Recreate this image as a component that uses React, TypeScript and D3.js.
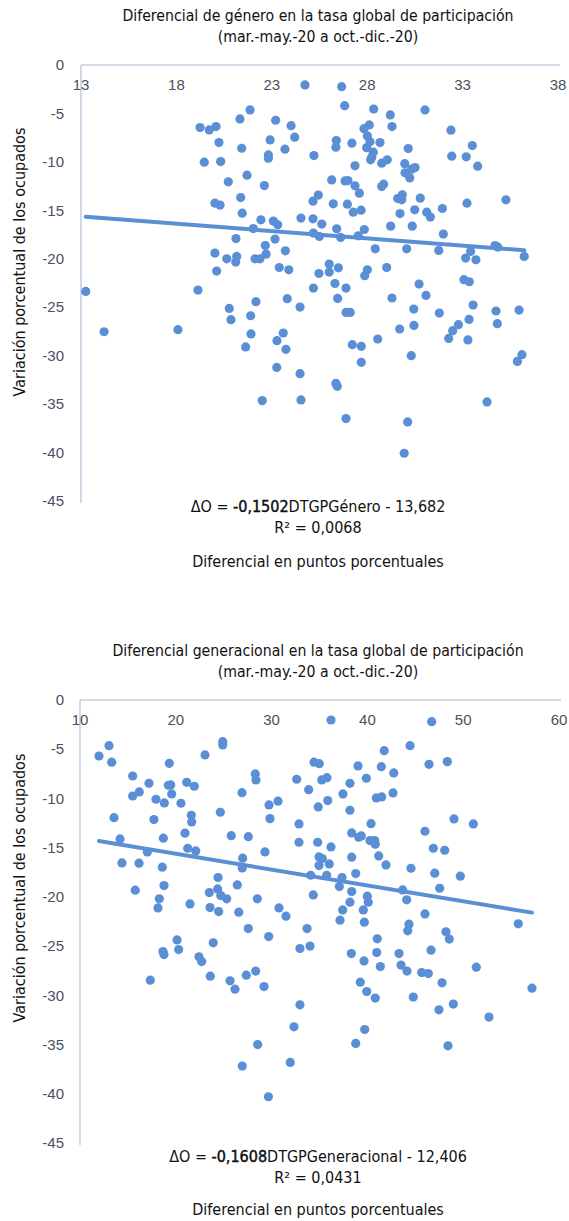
import React from "react";
import * as d3 from "d3";

// Diferencial de género (x) vs variación porcentual de los ocupados (y)
const genderPoints: [number, number][] = [
  [19.24, -6.46], [19.72, -6.7], [20.08, -6.36], [21.33, -5.57], [21.86, -4.64],
  [23.2, -5.7], [24.01, -6.26], [24.2, -7.45], [20.23, -8.01], [21.42, -8.59],
  [22.91, -7.73], [23.69, -8.69], [19.46, -10.03], [20.32, -9.97], [22.82, -9.28],
  [22.82, -9.62], [21.7, -11.37], [20.72, -12.06], [22.61, -12.44], [20.02, -14.26],
  [20.29, -14.46], [21.37, -13.68], [21.45, -15.29], [24.53, -15.8], [22.43, -15.98],
  [23.08, -16.11], [23.31, -16.49], [22.03, -16.88], [21.12, -17.91], [22.66, -18.63],
  [23.17, -17.97], [23.71, -19.18], [20.02, -19.41], [20.64, -20.0], [21.16, -19.76],
  [22.7, -19.52], [22.12, -20.0], [22.38, -20.0], [13.25, -23.37], [14.21, -27.53],
  [18.08, -27.32], [19.13, -23.23], [21.11, -20.34], [20.11, -21.27], [23.39, -20.9],
  [23.89, -21.13], [20.77, -25.12], [20.86, -26.29], [22.17, -24.43], [21.89, -25.88],
  [21.91, -27.76], [21.63, -29.1], [23.6, -27.66], [23.27, -28.45], [23.74, -29.35],
  [23.81, -24.12], [24.48, -24.98], [23.26, -31.21], [24.48, -31.86], [22.5, -34.64],
  [24.53, -34.57], [24.74, -2.06], [26.66, -2.24], [26.82, -4.2], [28.34, -4.54],
  [29.21, -5.15], [31.03, -4.64], [29.3, -6.36], [25.21, -9.35], [26.38, -7.8],
  [26.36, -8.48], [27.2, -8.07], [27.83, -6.57], [28.11, -6.19], [28.01, -7.32],
  [28.15, -7.91], [27.97, -8.53], [28.67, -8.01], [28.32, -9.0], [28.24, -9.52],
  [28.18, -9.79], [28.76, -10.13], [29.05, -9.79], [27.36, -10.41], [30.15, -8.63],
  [32.39, -6.73], [33.51, -8.32], [32.43, -9.41], [33.19, -9.48], [33.79, -10.44],
  [29.97, -10.18], [30.51, -10.59], [30.33, -10.75], [29.98, -11.13], [30.23, -11.65],
  [26.14, -11.86], [26.84, -11.96], [26.99, -11.93], [27.36, -12.47], [27.59, -13.23],
  [28.76, -12.55], [28.86, -12.3], [25.44, -13.43], [25.16, -14.05], [26.22, -14.33],
  [26.96, -14.36], [27.27, -15.19], [27.68, -14.98], [29.6, -13.78], [29.84, -13.4],
  [29.81, -13.92], [30.78, -13.74], [33.23, -14.26], [35.27, -13.92], [29.72, -15.33],
  [30.49, -14.95], [31.12, -15.19], [31.31, -15.7], [31.94, -14.81], [25.16, -15.88],
  [25.62, -16.42], [26.4, -16.91], [27.85, -16.98], [29.23, -16.63], [30.36, -16.63],
  [25.18, -17.35], [25.49, -17.7], [26.61, -17.8], [27.53, -17.63], [28.42, -18.97],
  [30.07, -18.97], [31.75, -19.14], [31.99, -17.45], [34.7, -18.63], [34.84, -18.79],
  [36.23, -19.76], [33.16, -19.93], [33.42, -19.25], [33.7, -20.1], [25.47, -21.52],
  [26.01, -20.55], [26.01, -21.37], [26.49, -20.93], [26.31, -22.55], [25.18, -23.02],
  [26.89, -23.02], [26.45, -24.09], [28.01, -21.13], [27.87, -21.75], [29.02, -20.9],
  [30.72, -22.61], [31.08, -23.78], [29.3, -24.05], [26.89, -25.54], [27.11, -25.54],
  [30.44, -25.19], [31.78, -25.6], [33.07, -22.16], [33.35, -22.37], [33.55, -24.77],
  [33.34, -26.26], [32.78, -26.8], [32.48, -27.42], [32.27, -28.22], [33.28, -28.38],
  [34.75, -25.39], [34.82, -26.7], [35.96, -25.29], [29.7, -27.25], [30.45, -26.88],
  [28.55, -28.28], [27.22, -28.87], [27.69, -29.04], [27.69, -30.69], [30.31, -30.0],
  [26.36, -32.86], [26.43, -33.16], [26.89, -36.49], [30.12, -36.84], [29.94, -40.07],
  [34.28, -34.77], [36.11, -29.9], [35.87, -30.59],
];

// Diferencial generacional (x) vs variación porcentual de los ocupados (y)
const generationPoints: [number, number][] = [
  [11.98, -5.69], [13.03, -4.64], [13.31, -6.32], [15.5, -7.72], [15.5, -9.75],
  [16.19, -9.34], [17.2, -8.46], [19.32, -6.43], [19.22, -8.66], [19.47, -8.63],
  [19.57, -9.54], [17.93, -10.08], [18.8, -10.46], [20.54, -10.49], [21.14, -8.36],
  [21.93, -8.76], [23.05, -5.58], [24.9, -4.23], [24.9, -4.57], [13.55, -11.95],
  [17.72, -12.15], [14.18, -14.11], [14.38, -16.55], [16.16, -16.58], [17.03, -15.43],
  [18.7, -14.04], [18.59, -16.98], [18.77, -18.85], [15.77, -19.32], [21.62, -11.71],
  [21.66, -12.39], [20.96, -13.53], [21.24, -15.06], [22.08, -15.33], [24.65, -11.4],
  [25.79, -13.78], [27.57, -13.88], [26.91, -9.41], [28.3, -7.51], [28.37, -8.12],
  [29.73, -10.66], [30.67, -10.28], [29.83, -12.05], [29.31, -15.43], [26.98, -16.07],
  [26.94, -17.06], [24.41, -18.04], [24.37, -19.19], [24.69, -19.87], [25.31, -20.2],
  [23.5, -19.56], [26.42, -18.78], [28.51, -20.2], [32.62, -8.05], [32.86, -12.59],
  [32.86, -14.45], [18.28, -20.2], [18.14, -21.12], [21.48, -20.71], [23.57, -21.09],
  [24.48, -21.49], [26.57, -21.55], [27.57, -23.22], [29.7, -24.03], [30.77, -21.12],
  [31.5, -21.96], [20.13, -24.37], [20.3, -25.35], [18.66, -25.55], [18.77, -25.86],
  [23.91, -24.67], [22.42, -26.09], [22.7, -26.57], [17.34, -28.46], [23.6, -28.05],
  [25.66, -28.53], [26.18, -29.37], [27.36, -27.95], [28.34, -27.54], [29.21, -29.11],
  [32.96, -25.25], [32.96, -30.96], [32.34, -33.2], [28.55, -35.0], [26.94, -37.19],
  [31.95, -36.82], [29.67, -40.3], [36.2, -2.03], [46.71, -2.2], [44.45, -4.64],
  [41.76, -5.15], [34.43, -6.32], [34.98, -6.47], [39.02, -6.7], [41.45, -6.77],
  [42.75, -7.41], [46.43, -6.53], [48.34, -6.26], [35.23, -8.12], [35.78, -7.89],
  [33.87, -9.11], [38.18, -8.46], [39.89, -7.95], [37.45, -9.54], [40.93, -9.95],
  [41.49, -9.85], [42.67, -9.44], [34.87, -10.86], [35.86, -10.22], [38.18, -11.2],
  [34.81, -14.45], [36.2, -14.92], [38.36, -13.5], [39.09, -13.94], [39.36, -13.81],
  [40.38, -12.56], [40.27, -14.28], [40.76, -14.28], [40.82, -14.65], [34.95, -15.94],
  [35.29, -16.11], [34.95, -16.82], [36.02, -16.65], [38.36, -15.97], [41.18, -15.84],
  [41.94, -16.75], [38.78, -17.63], [34.08, -17.8], [35.75, -17.8], [37.35, -18.04],
  [37.07, -18.95], [38.36, -19.46], [34.35, -19.8], [39.99, -19.93], [43.68, -19.29],
  [44.55, -17.09], [46.01, -13.33], [46.88, -15.06], [48.07, -15.26], [49.04, -12.08],
  [51.06, -12.59], [47.03, -17.59], [47.55, -19.12], [49.7, -17.9], [40.09, -20.54],
  [44.1, -20.3], [33.7, -23.22], [34.01, -25.0], [38.18, -20.54], [37.42, -21.32],
  [39.57, -21.32], [37.14, -22.37], [39.68, -22.57], [46.01, -21.73], [44.34, -22.77],
  [44.21, -23.45], [48.2, -23.55], [48.55, -24.29], [55.75, -22.74], [41.03, -24.26],
  [38.32, -25.76], [39.65, -26.5], [40.97, -25.65], [41.35, -27.08], [43.3, -25.76],
  [43.51, -26.93], [44.13, -27.54], [46.64, -25.41], [45.67, -27.69], [46.36, -27.79],
  [47.79, -28.73], [51.37, -27.14], [57.18, -29.27], [39.26, -28.66], [39.93, -29.61],
  [40.82, -30.28], [44.79, -30.18], [39.72, -33.47], [38.78, -34.89], [47.47, -31.47],
  [48.97, -30.89], [52.69, -32.21], [48.41, -35.13],
];

const genderTitle = [
  "Diferencial de género en la tasa global de participación",
  "(mar.-may.-20 a oct.-dic.-20)",
];
const generationTitle = [
  "Diferencial generacional en la tasa global de participación",
  "(mar.-may.-20 a oct.-dic.-20)",
];
const genderXTicks = [13, 18, 23, 28, 33, 38];
const generationXTicks = [10, 20, 30, 40, 50, 60];
const yTicks = [0, -5, -10, -15, -20, -25, -30, -35, -40, -45];

// trend lines as printed on the charts
const genderFit = { slope: -0.1502, intercept: -13.682, r2: "0,0068", coef: "-0,1502", rest: "DTGPGénero - 13,682" };
const generationFit = { slope: -0.1608, intercept: -12.406, r2: "0,0431", coef: "-0,1608", rest: "DTGPGeneracional - 12,406" };

const BLUE = "#5b8fd5";
const NARROW = "'Liberation Sans Narrow', 'DejaVu Sans Condensed', 'Arial Narrow', Roboto, sans-serif";
const TICKFONT = "'Liberation Sans', Arial, sans-serif";

function Scatter({ points, title, xTicks, fit, layout }) {
  const x = d3.scaleLinear().domain([xTicks[0], xTicks[xTicks.length - 1]]).range(layout.xRange);
  const y = d3.scaleLinear().domain([0, -45]).range(layout.yRange);

  const xs = points.map((d) => d[0]);
  const x0 = d3.min(xs), x1 = d3.max(xs);
  const trend = d3.line<number>()
    .x((v) => x(v))
    .y((v) => y(fit.slope * v + fit.intercept));

  const left = x(xTicks[0]);
  const cx = 318;

  return (
    <g>
      <text x={cx} y={layout.titleY} textAnchor="middle" fontFamily={NARROW} fontSize={15.7} fill="#111">
        <tspan x={cx}>{title[0]}</tspan>
        <tspan x={cx} dy={21}>{title[1]}</tspan>
      </text>

      {/* axes */}
      <line x1={left} x2={left} y1={y(0)} y2={y(-45) + 2} stroke="#c6cee0" strokeWidth={1.6} />
      <line x1={left} x2={layout.xRange[1] + 2} y1={y(0)} y2={y(0)} stroke="#c6cee0" strokeWidth={1.6} />

      {yTicks.map((t) => (
        <text key={t} x={64} y={y(t)} dy="0.35em" textAnchor="end" fontFamily={TICKFONT} fontSize={15} fill="#4a5160">
          {t}
        </text>
      ))}
      {xTicks.map((t) => (
        <text key={t} x={x(t)} y={y(0) + 20} dy="0.35em" textAnchor="middle" fontFamily={TICKFONT} fontSize={15} fill="#4a5160">
          {t}
        </text>
      ))}

      <text
        transform={`translate(19,${layout.yTitleY}) rotate(-90)`}
        textAnchor="middle"
        dy="0.35em"
        fontFamily={NARROW}
        fontSize={16}
        fill="#111"
      >
        Variación porcentual de los ocupados
      </text>

      {points.map((d, i) => (
        <circle key={i} cx={x(d[0])} cy={y(d[1])} r={4.6} fill={BLUE} />
      ))}

      <path d={trend([x0, x1])} fill="none" stroke={BLUE} strokeWidth={4} strokeLinecap="round" />

      <text x={cx} y={layout.eqY} textAnchor="middle" fontFamily={NARROW} fontSize={16} fill="#111">
        ΔO = <tspan stroke="#111" strokeWidth={0.45}>{fit.coef}</tspan>{fit.rest}
      </text>
      <text x={cx} y={layout.eqY + 21} textAnchor="middle" fontFamily={NARROW} fontSize={16} fill="#111">
        R² = {fit.r2}
      </text>
      <text x={cx} y={layout.xTitleY} textAnchor="middle" fontFamily={NARROW} fontSize={16} fill="#111">
        Diferencial en puntos porcentuales
      </text>
    </g>
  );
}

export default function App() {
  return (
    <svg
      width={569}
      height={1221}
      viewBox="0 0 569 1221"
      style={{ position: "absolute", left: 0, top: 0, background: "#fff" }}
    >
      <rect width={569} height={1221} fill="#fff" />
      <Scatter
        points={genderPoints}
        title={genderTitle}
        xTicks={genderXTicks}
        fit={genderFit}
        layout={{ xRange: [81, 558], yRange: [65, 501], titleY: 21, yTitleY: 262, eqY: 512, xTitleY: 567 }}
      />
      <Scatter
        points={generationPoints}
        title={generationTitle}
        xTicks={generationXTicks}
        fit={generationFit}
        layout={{ xRange: [80, 559], yRange: [700, 1143], titleY: 656, yTitleY: 888, eqY: 1162, xTitleY: 1215 }}
      />
    </svg>
  );
}
